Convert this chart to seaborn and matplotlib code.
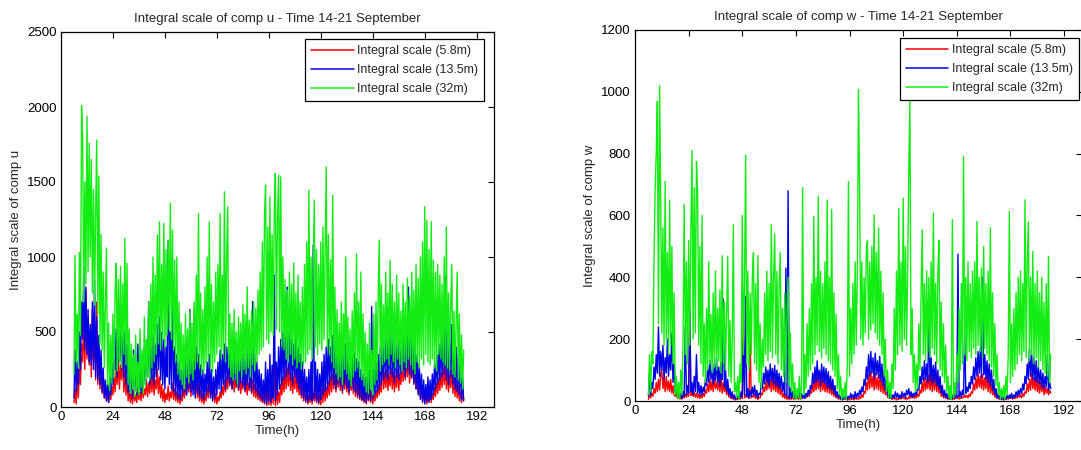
import numpy as np
import matplotlib
matplotlib.use("Agg")
import matplotlib.pyplot as plt
import seaborn as sns

u_58 = [30, 120, 20, 180, 60, 250, 150, 420, 300, 600, 250, 780, 320, 550, 280, 480, 200, 650, 300, 520, 180, 700, 150, 400,
        120, 260, 90, 200, 60, 150, 40, 120, 30, 100, 50, 140, 80, 200, 100, 260, 150, 320, 120, 280, 180, 350, 100, 240,
        80, 200, 40, 120, 30, 90, 20, 110, 40, 80, 30, 130, 50, 100, 40, 150, 60, 120, 80, 180, 70, 160, 90, 200,
        100, 220, 80, 180, 120, 250, 90, 200, 60, 150, 40, 120, 30, 90, 50, 140, 40, 100, 60, 160, 50, 120, 40, 100,
        30, 90, 20, 80, 40, 120, 60, 150, 80, 180, 100, 220, 70, 160, 120, 660, 90, 200, 60, 150, 40, 110, 30, 90,
        20, 80, 40, 130, 60, 180, 80, 150, 50, 120, 30, 90, 20, 70, 40, 100, 60, 140, 80, 180, 100, 200, 120, 240,
        140, 260, 120, 220, 100, 180, 130, 240, 110, 200, 90, 170, 120, 220, 100, 190, 80, 160, 110, 200, 90, 180, 70, 150,
        60, 130, 50, 110, 40, 90, 30, 70, 20, 160, 10, 140, 15, 120, 10, 150, 20, 300, 10, 130, 15, 100, 30, 150,
        80, 200, 100, 240, 120, 260, 140, 280, 110, 220, 90, 200, 120, 250, 100, 210, 80, 180, 60, 150, 40, 120, 30, 100,
        20, 80, 30, 110, 20, 90, 40, 130, 30, 100, 20, 80, 15, 120, 30, 150, 40, 130, 60, 170, 80, 200, 100, 220,
        120, 240, 100, 210, 130, 260, 110, 220, 90, 200, 120, 240, 100, 210, 80, 180, 110, 230, 90, 190, 70, 160, 60, 140,
        50, 120, 40, 100, 30, 90, 20, 110, 40, 130, 30, 100, 20, 80, 40, 110, 60, 150, 80, 180, 100, 390, 120, 230,
        130, 250, 110, 220, 140, 260, 120, 230, 100, 210, 130, 250, 110, 220, 150, 280, 170, 300, 180, 330, 200, 350, 160, 290,
        190, 340, 150, 300, 120, 260, 90, 200, 60, 150, 40, 110, 30, 90, 20, 80, 40, 110, 30, 90, 50, 130, 70, 160,
        90, 190, 110, 230, 130, 260, 150, 280, 120, 240, 100, 210, 130, 250, 90, 200, 70, 170, 60, 140, 40, 110, 30, 80,
        50]

u_135 = [60, 380, 100, 300, 150, 500, 250, 700, 450, 936, 380, 800, 350, 650, 300, 550, 280, 700, 250, 850, 200, 600, 180, 480,
         150, 380, 100, 260, 60, 180, 40, 150, 30, 200, 80, 300, 150, 420, 250, 520, 200, 620, 300, 560, 250, 600, 200, 500,
         150, 420, 100, 300, 80, 250, 60, 380, 100, 300, 80, 420, 120, 350, 90, 280, 120, 400, 150, 450, 200, 703, 150, 400,
         180, 480, 150, 420, 200, 550, 250, 600, 180, 500, 150, 450, 120, 400, 200, 1110, 150, 500, 120, 820, 100, 400, 80, 350,
         60, 300, 50, 250, 80, 350, 100, 400, 80, 300, 120, 650, 100, 350, 80, 300, 60, 400, 90, 350, 70, 280, 60, 250,
         50, 220, 80, 300, 100, 350, 60, 250, 40, 200, 60, 250, 80, 300, 120, 380, 100, 350, 150, 420, 120, 400, 180, 450,
         150, 400, 120, 350, 180, 420, 150, 380, 120, 340, 160, 400, 140, 360, 110, 320, 150, 420, 130, 380, 100, 703, 120, 350,
         100, 300, 80, 250, 60, 220, 40, 180, 30, 300, 20, 250, 40, 350, 30, 280, 60, 880, 40, 300, 80, 400, 120, 450,
         150, 500, 180, 480, 200, 800, 220, 500, 180, 450, 150, 420, 200, 480, 160, 400, 120, 350, 80, 300, 60, 250, 40, 200,
         30, 250, 50, 300, 40, 1080, 60, 300, 40, 250, 30, 220, 50, 300, 80, 350, 100, 400, 120, 450, 150, 400, 180, 480,
         150, 420, 120, 380, 160, 450, 140, 400, 110, 360, 150, 420, 130, 380, 100, 340, 140, 400, 120, 360, 100, 320, 80, 300,
         60, 250, 50, 220, 40, 200, 30, 250, 50, 280, 40, 670, 60, 250, 80, 300, 100, 350, 120, 400, 150, 450, 180, 480,
         200, 500, 180, 450, 220, 520, 200, 480, 160, 420, 200, 500, 180, 450, 220, 520, 240, 560, 200, 500, 250, 800, 220, 520,
         200, 480, 160, 420, 120, 350, 80, 280, 50, 220, 30, 180, 20, 150, 40, 200, 30, 180, 50, 220, 80, 280, 120, 350,
         150, 420, 180, 480, 200, 520, 220, 870, 180, 500, 150, 450, 200, 550, 150, 480, 120, 400, 100, 350, 80, 300, 50, 200,
         40]

u_32 = [220, 1010, 300, 620, 260, 1030, 480, 2010, 1790, 700, 1500, 820, 1940, 900, 1760, 1000, 1650, 760, 1450, 680, 1300, 1780, 620, 1540,
        420, 1150, 380, 900, 260, 700, 1060, 150, 560, 110, 480, 160, 620, 200, 780, 958, 240, 850, 300, 936, 260, 820, 350, 1125,
        280, 958, 150, 520, 90, 420, 120, 350, 70, 480, 100, 300, 80, 520, 130, 380, 90, 600, 140, 450, 200, 700, 180, 820,
        260, 1000, 300, 880, 350, 1147, 420, 1235, 380, 950, 450, 1224, 400, 1050, 480, 1113, 520, 1357, 450, 1180, 380, 980, 300, 1000,
        220, 700, 180, 560, 150, 480, 120, 620, 200, 520, 160, 640, 220, 560, 180, 700, 250, 880, 300, 1290, 260, 760, 220, 650,
        240, 800, 280, 1000, 320, 1235, 260, 820, 230, 700, 300, 900, 350, 950, 400, 1290, 320, 880, 380, 1435, 300, 1000, 1335, 260,
        620, 200, 560, 180, 650, 220, 500, 150, 600, 240, 560, 200, 680, 250, 620, 220, 800, 260, 580, 200, 640, 280, 700, 240,
        660, 300, 780, 350, 900, 380, 1100, 400, 1280, 1480, 450, 1200, 420, 1400, 500, 1150, 480, 1300, 1557, 520, 1250, 1546, 500, 1535,
        400, 1000, 380, 850, 320, 780, 300, 900, 350, 820, 280, 960, 320, 760, 260, 880, 300, 700, 250, 800, 280, 950, 300, 1100,
        350, 1446, 380, 1000, 320, 900, 1380, 400, 1050, 350, 950, 420, 1100, 380, 1200, 450, 1050, 1601, 400, 1150, 350, 980, 300, 1413,
        260, 800, 220, 650, 180, 560, 200, 700, 150, 620, 250, 1000, 220, 600, 180, 520, 140, 640, 200, 760, 240, 1020, 260, 700,
        200, 900, 180, 620, 140, 500, 100, 420, 90, 560, 120, 380, 80, 620, 150, 700, 180, 760, 1113, 240, 820, 280, 680, 300,
        900, 320, 760, 280, 980, 350, 820, 300, 700, 260, 880, 320, 760, 280, 640, 240, 820, 300, 700, 260, 860, 320, 740, 280,
        900, 250, 780, 220, 950, 300, 860, 260, 1000, 320, 1100, 280, 1335, 350, 1246, 300, 1050, 280, 1235, 320, 980, 260, 900, 240,
        950, 350, 880, 320, 820, 300, 1000, 280, 1202, 260, 760, 240, 700, 950, 220, 640, 200, 560, 900, 180, 620, 160, 480, 120,
        380]

w_58 = [5, 20, 10, 25, 15, 40, 25, 60, 30, 70, 35, 85, 100, 40, 75, 30, 80, 35, 65, 30, 70, 25, 50, 20,
        15, 25, 8, 18, 5, 12, 6, 15, 10, 20, 12, 25, 15, 300, 18, 30, 15, 28, 12, 25, 10, 22, 8, 20,
        10, 25, 15, 35, 25, 55, 30, 70, 35, 65, 30, 75, 40, 60, 35, 70, 30, 80, 25, 60, 30, 55, 20, 40,
        12, 25, 8, 15, 5, 10, 3, 8, 5, 12, 6, 15, 8, 300, 10, 20, 12, 15, 8, 210, 10, 18, 12, 20,
        8, 15, 5, 12, 10, 25, 20, 45, 30, 60, 35, 75, 40, 70, 30, 85, 35, 65, 30, 70, 25, 55, 20, 40,
        12, 25, 8, 20, 5, 15, 4, 12, 6, 18, 5, 10, 8, 15, 6, 12, 5, 10, 8, 15, 10, 20, 12, 25,
        15, 35, 25, 55, 30, 70, 35, 80, 40, 65, 30, 85, 35, 70, 30, 60, 28, 65, 25, 50, 20, 40, 15, 30,
        10, 20, 6, 12, 4, 8, 3, 10, 5, 8, 3, 6, 4, 10, 5, 8, 4, 12, 6, 10, 5, 15, 8, 20,
        12, 30, 25, 60, 35, 85, 40, 95, 45, 80, 35, 90, 40, 75, 35, 85, 30, 70, 25, 55, 20, 40, 12, 25,
        8, 15, 5, 12, 6, 10, 4, 8, 5, 12, 6, 15, 8, 12, 5, 10, 6, 14, 8, 18, 10, 15, 8, 20,
        10, 22, 15, 35, 25, 60, 30, 75, 35, 70, 40, 85, 35, 90, 30, 75, 35, 80, 30, 65, 25, 50, 15, 30,
        10, 20, 8, 15, 5, 12, 6, 10, 5, 8, 6, 12, 8, 15, 6, 12, 8, 15, 10, 20, 12, 18, 10, 22,
        15, 30, 25, 55, 35, 75, 40, 90, 45, 80, 40, 85, 35, 75, 40, 80, 30, 70, 25, 55, 20, 40, 12, 25,
        8, 15, 5, 10, 4, 8, 3, 6, 5, 10, 6, 12, 8, 15, 6, 12, 8, 14, 10, 18, 12, 20, 10, 25,
        15, 30, 25, 55, 30, 70, 35, 90, 40, 75, 35, 80, 30, 65, 25, 60, 30, 55, 20, 45, 25, 40, 20, 35,
        25]

w_135 = [15, 90, 20, 60, 40, 110, 70, 150, 90, 240, 80, 160, 100, 180, 70, 140, 90, 200, 80, 150, 100, 220, 60, 120,
         30, 60, 15, 40, 10, 25, 8, 30, 15, 240, 20, 50, 25, 300, 30, 60, 20, 80, 30, 150, 25, 60, 20, 50,
         20, 45, 30, 70, 50, 110, 60, 130, 70, 100, 55, 120, 65, 140, 60, 110, 50, 125, 70, 330, 45, 100, 30, 70,
         20, 40, 10, 30, 8, 20, 5, 15, 8, 25, 10, 30, 15, 200, 20, 339, 15, 40, 10, 35, 15, 45, 20, 50,
         15, 35, 10, 25, 20, 60, 40, 90, 55, 110, 60, 100, 50, 120, 65, 105, 55, 115, 50, 100, 45, 90, 40, 80,
         30, 60, 20, 430, 15, 680, 10, 40, 8, 30, 10, 25, 8, 20, 10, 30, 12, 25, 10, 20, 8, 25, 15, 35,
         20, 50, 40, 90, 55, 110, 60, 130, 65, 100, 50, 120, 60, 110, 55, 105, 45, 95, 40, 80, 35, 70, 25, 50,
         15, 30, 10, 20, 6, 15, 5, 12, 8, 20, 6, 15, 8, 25, 10, 20, 8, 30, 10, 25, 15, 35, 20, 45,
         30, 70, 50, 110, 70, 150, 80, 160, 90, 140, 70, 155, 85, 130, 75, 145, 65, 120, 50, 100, 35, 70, 20, 40,
         10, 25, 8, 20, 10, 30, 12, 25, 8, 20, 10, 30, 15, 25, 10, 35, 20, 40, 15, 30, 12, 25, 15, 30,
         20, 45, 35, 80, 55, 110, 65, 130, 70, 120, 60, 280, 65, 140, 55, 115, 60, 125, 50, 100, 40, 80, 25, 50,
         15, 35, 10, 25, 8, 20, 6, 15, 8, 25, 10, 30, 12, 475, 15, 30, 12, 35, 20, 230, 25, 45, 30, 60,
         40, 80, 55, 110, 70, 140, 80, 160, 90, 170, 75, 400, 85, 150, 70, 130, 60, 120, 50, 100, 35, 70, 20, 40,
         10, 25, 8, 20, 6, 15, 5, 12, 6, 18, 8, 20, 10, 25, 8, 20, 12, 30, 15, 35, 20, 40, 25, 55,
         35, 80, 55, 120, 70, 170, 80, 150, 70, 140, 65, 130, 60, 110, 55, 100, 45, 90, 40, 80, 45, 150, 35, 60,
         40]

w_32 = [20, 150, 30, 160, 120, 450, 680, 800, 970, 250, 1020, 640, 220, 560, 180, 710, 200, 480, 150, 650, 180, 500, 120, 350,
        20, 80, 10, 60, 5, 100, 20, 200, 636, 150, 450, 120, 520, 180, 550, 810, 200, 690, 220, 775, 680, 180, 500, 120,
        600, 80, 250, 60, 300, 100, 450, 120, 280, 90, 350, 110, 420, 100, 300, 130, 360, 90, 470, 120, 320, 100, 280, 468,
        80, 260, 60, 200, 570, 30, 60, 10, 80, 5, 120, 60, 600, 150, 380, 796, 120, 420, 100, 350, 150, 400, 480, 120,
        380, 100, 470, 60, 250, 40, 200, 110, 350, 150, 420, 130, 380, 160, 570, 140, 400, 540, 150, 420, 120, 380, 480, 100,
        300, 80, 350, 60, 280, 400, 50, 220, 30, 120, 10, 60, 5, 40, 10, 80, 5, 50, 690, 20, 150, 40, 250, 80,
        300, 100, 380, 120, 597, 150, 400, 180, 662, 160, 420, 140, 380, 170, 450, 150, 650, 130, 400, 120, 620, 100, 350, 80,
        280, 40, 150, 20, 80, 5, 40, 10, 60, 5, 120, 710, 80, 300, 120, 380, 150, 450, 180, 420, 1008, 683, 200, 450,
        180, 400, 220, 480, 520, 200, 450, 230, 500, 250, 602, 220, 480, 200, 560, 180, 420, 150, 350, 80, 200, 30, 100, 10,
        60, 10, 120, 40, 300, 100, 420, 150, 624, 180, 450, 160, 656, 200, 500, 180, 420, 748, 974, 150, 300, 60, 150, 30,
        120, 40, 250, 100, 350, 554, 150, 380, 130, 420, 160, 400, 140, 450, 170, 608, 150, 380, 120, 420, 520, 100, 320, 80,
        250, 60, 180, 30, 80, 10, 50, 5, 587, 10, 60, 20, 150, 60, 300, 100, 380, 120, 791, 150, 400, 130, 450, 160,
        380, 140, 420, 170, 450, 150, 581, 180, 400, 160, 430, 140, 500, 170, 380, 150, 420, 130, 560, 110, 350, 80, 250, 50,
        150, 20, 60, 5, 40, 10, 50, 5, 80, 20, 150, 613, 60, 250, 80, 300, 100, 350, 120, 400, 150, 420, 130, 380,
        160, 651, 140, 450, 580, 130, 400, 150, 484, 120, 380, 140, 420, 110, 350, 130, 400, 100, 320, 90, 380, 80, 468, 60,
        150]

labels = ['Integral scale (5.8m)', 'Integral scale (13.5m)', 'Integral scale (32m)']
colors = ['#ff0000', '#0000e6', '#12ec12']
hour_ticks = [0, 24, 48, 72, 96, 120, 144, 168, 192]

sns.set_style("white")
plt.rcParams['font.family'] = ['Liberation Sans', 'DejaVu Sans']
plt.rcParams.update({
    'xtick.direction': 'in', 'ytick.direction': 'in',
    'xtick.top': True, 'ytick.right': True,
    'xtick.major.size': 4, 'ytick.major.size': 4,
    'xtick.major.width': 0.8, 'ytick.major.width': 0.8,
    'axes.edgecolor': 'black', 'axes.linewidth': 0.9,
})


def hours(vals):
    return 6 + 0.5 * np.arange(len(vals))


def panel(ax, series, comp, ymax, yticks, anchor):
    for vals, lab, col in zip(series, labels, colors):
        sns.lineplot(x=hours(vals), y=vals, ax=ax, color=col, linewidth=1.0,
                     label=lab, estimator=None, sort=False)
    ax.set_xlim(0, 200)
    ax.set_ylim(0, ymax)
    ax.set_xticks(hour_ticks)
    ax.set_yticks(yticks)
    ax.tick_params(labelsize=9.5, colors='black', pad=3)
    ax.set_title('Integral scale of comp %s - Time 14-21 September' % comp, fontsize=9.5, pad=7)
    ax.set_xlabel('Time(h)', fontsize=9.5, labelpad=1)
    ax.set_ylabel('Integral scale of comp %s' % comp, fontsize=9.5, labelpad=4)
    leg = ax.legend(loc='upper right', bbox_to_anchor=anchor, borderaxespad=0,
                    fontsize=9, handlelength=3.4, handletextpad=0.25,
                    labelspacing=0.55, fancybox=False, framealpha=1,
                    edgecolor='black', borderpad=0.5)
    leg.get_frame().set_linewidth(0.9)
    for line, col in zip(leg.get_lines(), colors):
        line.set_color(col)
        line.set_linewidth(1.1)


fig = plt.figure(figsize=(10.81, 4.5), dpi=100)
ax1 = fig.add_axes([61 / 1081, 43 / 450, 433 / 1081, 375 / 450])
ax2 = fig.add_axes([635 / 1081, 49 / 450, 447 / 1081, 371 / 450])

panel(ax1, [u_58, u_135, u_32], 'u', 2500, [0, 500, 1000, 1500, 2000, 2500], (0.977, 0.981))
panel(ax2, [w_58, w_135, w_32], 'w', 1200, [0, 200, 400, 600, 800, 1000, 1200], (0.993, 0.978))

fig.savefig('out.png', dpi=100)
